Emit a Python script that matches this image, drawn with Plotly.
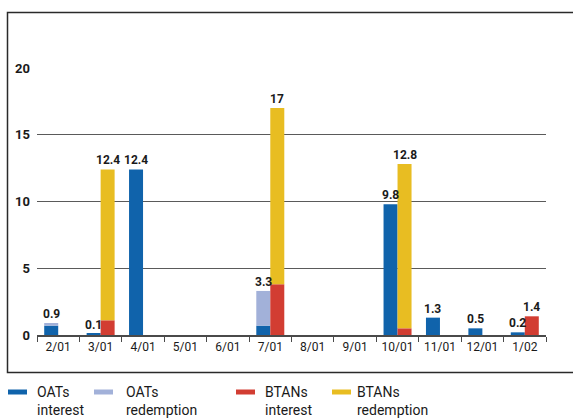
import plotly.graph_objects as go

# Monthly debt service (EUR bn), split by instrument
months = ["2/01", "3/01", "4/01", "5/01", "6/01", "7/01",
          "8/01", "9/01", "10/01", "11/01", "12/01", "1/02"]
oat_interest = [0.7, 0.1, 12.4, 0, 0, 0.7, 0, 0, 9.8, 1.3, 0.5, 0.2]
oat_redemption = [0.2, 0, 0, 0, 0, 2.6, 0, 0, 0, 0, 0, 0]
btan_interest = [0, 1.1, 0, 0, 0, 3.8, 0, 0, 0.5, 0, 0, 1.4]
btan_redemption = [0, 11.3, 0, 0, 0, 13.2, 0, 0, 12.3, 0, 0, 0]

series_names = ["OATs<br>interest", "OATs<br>redemption",
                "BTANs<br>interest", "BTANs<br>redemption"]
colors = ["#1063ab", "#a2b1d9", "#d23d32", "#e8bd22"]

W, H = 573, 419
ML, MR, MT, MB = 37, 27, 68, 84
PW, PH = W - ML - MR, H - MT - MB

FONT = "Roboto, Liberation Sans, sans-serif"
INK = "#1a1a1a"


def px_x(px):
    return (px - ML) / PW


def px_y(py):
    return (H - MB - py) / PH


fig = go.Figure()

oat_total = [a + b for a, b in zip(oat_interest, oat_redemption)]
btan_total = [a + b for a, b in zip(btan_interest, btan_redemption)]

stacks = [
    ("oat", oat_interest, oat_redemption),
    ("btan", btan_interest, btan_redemption),
]
for i, (grp, lower, upper) in enumerate(stacks):
    fig.add_trace(go.Bar(
        x=months, y=lower, offsetgroup=grp,
        marker=dict(color=colors[2 * i], line=dict(width=0)),
        showlegend=False, name=series_names[2 * i].replace("<br>", " "),
    ))
    fig.add_trace(go.Bar(
        x=months, y=upper, base=lower, offsetgroup=grp,
        marker=dict(color=colors[2 * i + 1], line=dict(width=0)),
        showlegend=False, name=series_names[2 * i + 1].replace("<br>", " "),
    ))

# Total labels above each stack
annotations = []
for totals, shift in ((oat_total, -7), (btan_total, 7)):
    for m, t in zip(months, totals):
        if t > 0:
            annotations.append(dict(
                x=m, y=t, xref="x", yref="y", xshift=shift, yshift=1,
                text=f"{round(t, 1):g}", showarrow=False,
                yanchor="bottom", xanchor="center", borderpad=0,
                font=dict(family=FONT, size=12, color=INK, weight="bold"),
            ))

# Legend row below the frame
shapes = []
legend_items = [(8, 27, 36), (94, 113, 125), (236, 255, 264), (332, 351, 356)]
for (x0, x1, tx), name, col in zip(legend_items, series_names, colors):
    shapes.append(dict(
        type="line", xref="paper", yref="paper",
        x0=px_x(x0), x1=px_x(x1), y0=px_y(392), y1=px_y(392),
        line=dict(color=col, width=5),
    ))
    annotations.append(dict(
        x=px_x(tx), y=px_y(401), xref="paper", yref="paper",
        text=name, showarrow=False, xanchor="left", yanchor="middle",
        align="left", borderpad=0,
        font=dict(family=FONT, size=14, color=INK),
    ))

# Outer frame (open to the right)
shapes.append(dict(
    type="rect", xref="paper", yref="paper", layer="below",
    x0=px_x(7.5), x1=px_x(W + 20), y0=px_y(12.5), y1=px_y(372.5),
    line=dict(color="#2a2a2a", width=1.5), fillcolor="rgba(0,0,0,0)",
))

fig.update_layout(
    width=W, height=H,
    margin=dict(l=ML, r=MR, t=MT, b=MB),
    paper_bgcolor="white", plot_bgcolor="white",
    barmode="group", bargap=0.34, bargroupgap=0,
    showlegend=False,
    annotations=annotations, shapes=shapes,
    font=dict(family=FONT, color=INK),
)
fig.update_xaxes(
    type="category", showgrid=False, showline=True,
    linecolor="#4a4a4a", linewidth=1.5,
    ticks="outside", tickson="boundaries", ticklen=5, tickcolor="#4a4a4a",
    tickwidth=1.2, tickangle=0,
    tickfont=dict(family=FONT, size=12, color=INK),
    fixedrange=True,
)
fig.update_yaxes(
    range=[0, 20], tickvals=[0, 5, 10, 15, 20], showgrid=True,
    gridcolor="#5a5a5a", gridwidth=1, zeroline=False, showline=False,
    ticks="", ticklabelstandoff=6,
    tickfont=dict(family=FONT, size=13, color=INK, weight="bold"),
    fixedrange=True,
)

fig.write_html("out.html")
